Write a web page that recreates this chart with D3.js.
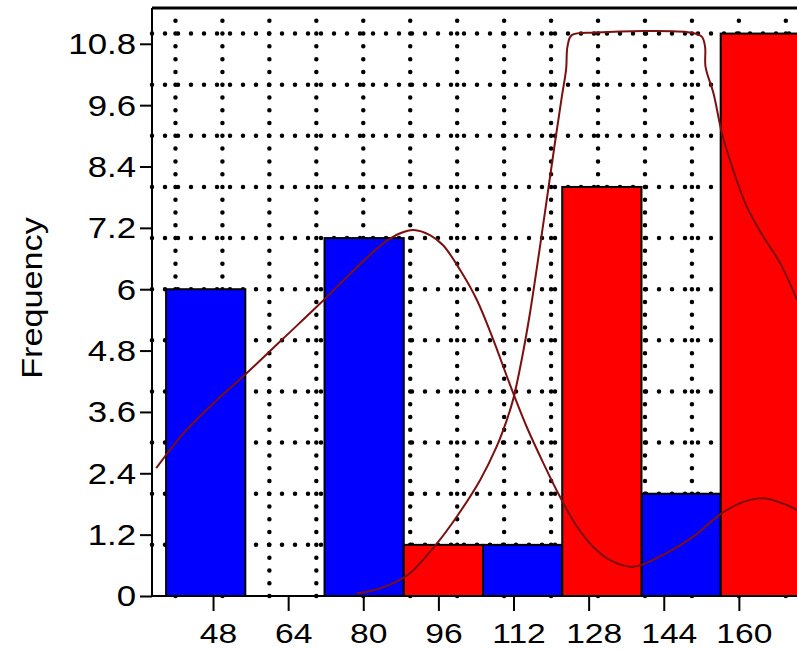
<!DOCTYPE html>
<html>
<head>
<meta charset="utf-8">
<script src="https://cdn.jsdelivr.net/npm/d3@7"></script>
<style>
  html, body { margin: 0; padding: 0; background: #fff; }
  svg { display: block; }
  text { font-family: "Liberation Sans", Arial, sans-serif; fill: #000; }
</style>
</head>
<body>
<svg id="chart"></svg>
<script>
const binEdges = [38, 54.875, 71.75, 88.625, 105.5, 122.375, 139.25, 156.125, 173];
const blueCounts = [6, 0, 7, 0, 1, 0, 2, 0];
const redCounts = [0, 0, 0, 1, 0, 8, 0, 11];

const xTicks = [48, 64, 80, 96, 112, 128, 144, 160];
const yTicks = [0, 1.2, 2.4, 3.6, 4.8, 6, 7.2, 8.4, 9.6, 10.8];
const xGrid = [40, 50, 60, 70, 80, 90, 100, 110, 120, 130, 140, 150, 160, 170];
const yGrid = [1, 2, 3, 4, 5, 6, 7, 8, 9, 10, 11];

// density-like curves
const curveBlue = [
  [35.9, 2.50], [41.7, 3.18], [48.8, 3.83], [55.2, 4.36], [63.0, 5.04],
  [70.8, 5.72], [77.2, 6.30], [84.3, 6.90], [88.0, 7.10], [90.7, 7.16],
  [94.2, 7.06], [97.0, 6.86], [100.6, 6.38], [104.2, 5.79], [107.7, 5.01],
  [111.3, 4.12], [114.8, 3.31], [118.4, 2.59], [121.9, 1.94], [125.5, 1.36],
  [129.0, 0.96], [132.6, 0.70], [137.5, 0.57], [144.6, 0.84], [150.3, 1.16],
  [156.4, 1.62], [161.0, 1.84], [165.2, 1.91], [170.2, 1.78], [172.4, 1.68]
];
const curveRed = [
  [78.6, 0.05], [83.6, 0.15], [89.3, 0.40], [95.7, 1.03], [99.9, 1.55],
  [104.9, 2.27], [108.4, 2.92], [110.6, 3.45], [112.0, 3.87], [113.8, 4.65],
  [115.5, 5.53], [118.5, 7.38], [120.8, 8.85], [122.3, 9.77], [123.2, 10.30],
  [123.5, 10.75], [124.4, 10.97], [129.7, 11.02], [140.4, 11.05], [149.6, 11.02],
  [152.1, 10.94], [152.8, 10.74], [152.9, 10.35], [154.6, 9.83], [156.4, 9.05],
  [158.8, 8.33], [161.7, 7.61], [165.2, 7.03], [168.8, 6.51], [172.4, 5.79]
];

const width = 797;
const height = 650;
const margin = { top: 8, left: 152, bottom: 54 };
const plotH = height - margin.top - margin.bottom;
const sx = 1.2; // glyphs in the picture are wider than the font

const svg = d3.select('#chart')
  .attr('width', width)
  .attr('height', height);

const x = d3.scaleLinear()
  .domain([35, 180])
  .range([0, 145 * 4.695]);

const y = d3.scaleLinear()
  .domain([0, 11.5])
  .range([plotH, 0]);

const g = svg.append('g')
  .attr('transform', `translate(${margin.left},${margin.top})`);

// dotted grid
g.append('g')
  .selectAll('line')
  .data(yGrid)
  .enter()
  .append('line')
  .attr('x1', 0)
  .attr('x2', width)
  .attr('y1', d => y(d))
  .attr('y2', d => y(d))
  .attr('stroke', '#000')
  .attr('stroke-width', 4.5)
  .attr('stroke-linecap', 'round')
  .attr('stroke-dasharray', '0 13');

g.append('g')
  .selectAll('line')
  .data(xGrid)
  .enter()
  .append('line')
  .attr('x1', d => x(d))
  .attr('x2', d => x(d))
  .attr('y1', plotH)
  .attr('y2', 0)
  .attr('stroke', '#000')
  .attr('stroke-width', 4.5)
  .attr('stroke-linecap', 'round')
  .attr('stroke-dasharray', `0 ${(y(0) - y(1)) / 4}`);

// bars
function drawBars(counts, color) {
  const data = counts
    .map((c, i) => ({ x0: binEdges[i], x1: binEdges[i + 1], c }))
    .filter(d => d.c > 0);
  g.append('g')
    .selectAll('rect')
    .data(data)
    .enter()
    .append('rect')
    .attr('x', d => x(d.x0))
    .attr('width', d => x(d.x1) - x(d.x0))
    .attr('y', d => y(d.c))
    .attr('height', d => y(0) - y(d.c))
    .attr('fill', color)
    .attr('stroke', '#000')
    .attr('stroke-width', 2);
}
drawBars(blueCounts, '#0000ff');
drawBars(redCounts, '#ff0000');

// curves
const line = d3.line()
  .x(d => x(d[0]))
  .y(d => y(d[1]))
  .curve(d3.curveCatmullRom.alpha(0.5));

[curveBlue, curveRed].forEach(pts => {
  g.append('path')
    .datum(pts)
    .attr('d', line)
    .attr('fill', 'none')
    .attr('stroke', '#7a1010')
    .attr('stroke-width', 2);
});

// frame: top border
g.append('line')
  .attr('x1', 0)
  .attr('x2', width)
  .attr('y1', 0)
  .attr('y2', 0)
  .attr('stroke', '#000')
  .attr('stroke-width', 2.8);

// axes
const yAxis = g.append('g')
  .call(d3.axisLeft(y).tickValues(yTicks).tickSize(12).tickPadding(0).tickFormat(d3.format('~g')));
yAxis.select('.domain').attr('d', `M0,0V${plotH}`).attr('stroke-width', 2);
yAxis.selectAll('.tick line').attr('stroke-width', 2);
yAxis.selectAll('.tick text')
  .attr('x', -16 / sx)
  .attr('dy', '0.34em')
  .attr('transform', `scale(${sx},1)`)
  .style('font-size', '29px');

const xAxis = g.append('g')
  .attr('transform', `translate(0,${plotH})`)
  .call(d3.axisBottom(x).tickValues(xTicks).tickSize(15).tickPadding(0));
xAxis.select('.domain').attr('d', `M0,0H${width}`).attr('stroke-width', 2);
xAxis.selectAll('.tick line').attr('stroke-width', 2);
xAxis.selectAll('.tick text')
  .attr('x', 5 / sx)
  .attr('y', 47)
  .attr('dy', 0)
  .attr('transform', `scale(${sx},1)`)
  .style('font-size', '28px');

svg.append('text')
  .attr('transform', `translate(42,298) scale(1,1.18) rotate(-90)`)
  .attr('text-anchor', 'middle')
  .style('font-size', '29px')
  .text('Frequency');
</script>
</body>
</html>
